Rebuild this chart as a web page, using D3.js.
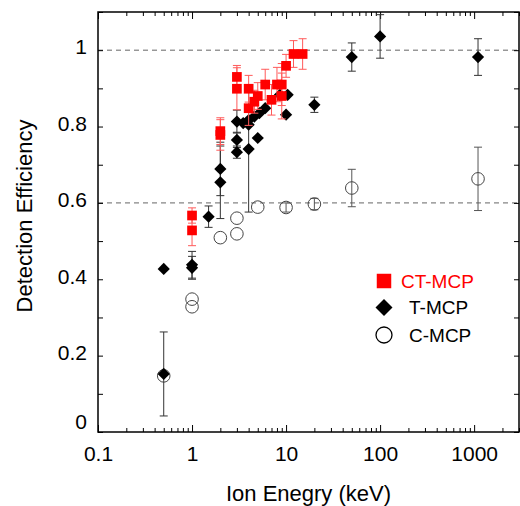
<!DOCTYPE html>
<html>
<head>
<meta charset="utf-8">
<script src="https://cdn.jsdelivr.net/npm/d3@7"></script>
<style>
body { margin: 0; background: #fff; }
text { font-family: Arial, "Liberation Sans", sans-serif; }
</style>
</head>
<body>
<div class="container"></div>
<script>
// CT-MCP (red squares)
var ctEnergy = [1, 1, 2, 2, 3, 3, 4, 4, 4.6, 5, 6, 7, 8, 9, 9, 10, 12, 15];
var ctValue  = [0.567, 0.528, 0.788, 0.778, 0.93, 0.899, 0.899, 0.848, 0.865, 0.88, 0.91, 0.87, 0.91, 0.91, 0.88, 0.959, 0.99, 0.99];
var ctError  = [0.02, 0.04, 0.035, 0.04, 0.03, 0.055, 0.035, 0.045, 0.03, 0.035, 0.04, 0.04, 0.045, 0.055, 0.06, 0.03, 0.035, 0.04];

// T-MCP (black diamonds)
var tEnergy = [0.5, 0.5, 1, 1, 1.5, 2, 2, 3, 3, 3, 3.5, 4, 4, 4, 4.6, 5, 5.2, 6, 8.6, 10.4, 10, 20, 50, 100, 1100];
var tValue  = [0.427, 0.152, 0.438, 0.43, 0.564, 0.689, 0.654, 0.813, 0.765, 0.733, 0.809, 0.817, 0.805, 0.741, 0.826, 0.77, 0.835, 0.848, 0.883, 0.883, 0.831, 0.857, 0.982, 1.036, 0.982];
var tError  = [0, 0.11, 0.035, 0.03, 0.028, 0.07, 0.095, 0.03, 0.02, 0.016, 0, 0, 0, 0.165, 0, 0, 0, 0, 0, 0, 0, 0.02, 0.037, 0.057, 0.048];

// C-MCP (open circles)
var cEnergy = [0.5, 1, 1, 2, 3, 3, 5, 10, 20, 50, 1100];
var cValue  = [0.147, 0.348, 0.328, 0.509, 0.56, 0.519, 0.589, 0.588, 0.597, 0.639, 0.663];
var cError  = [0, 0, 0, 0, 0, 0, 0, 0.012, 0.015, 0.049, 0.083];

var seriesNames = ["CT-MCP", "T-MCP", "C-MCP"];
var xMajorTicks = [0.1, 1, 10, 100, 1000];
var xTickLabels = ["0.1", "1", "10", "100", "1000"];
var yMajorTicks = [0, 0.2, 0.4, 0.6, 0.8, 1];
var yTickLabels = ["0", "0.2", "0.4", "0.6", "0.8", "1"];
var refLines = [0.6, 1];

var loadChart = function () {
    const WIDTH = 520, HEIGHT = 506;
    const LEFT = 98, RIGHT = 519, TOP = 12, BOTTOM = 432;

    var svg = d3.select('.container').append('svg')
        .attr('width', WIDTH).attr('height', HEIGHT);

    var xScale = d3.scaleLog().domain([0.1, 3000]).range([LEFT, RIGHT]);
    var yScale = d3.scaleLinear().domain([0, 1.1]).range([BOTTOM, TOP]);

    // log ticks: 1..9 of each decade
    var xTicks = [];
    [0.1, 1, 10, 100, 1000].forEach(function (dec) {
        for (var k = 1; k <= 9; k++) {
            var v = +(dec * k).toPrecision(3);
            if (v <= 3000) xTicks.push(v);
        }
    });
    var yTicks = d3.range(0, 12).map(function (i) { return +(i * 0.1).toFixed(1); });

    var isMajorX = function (d) { return xMajorTicks.indexOf(d) >= 0; };
    var xLabel = function (d) { var i = xMajorTicks.indexOf(d); return i >= 0 ? xTickLabels[i] : ""; };
    var yLabel = function (d) { var i = yMajorTicks.indexOf(d); return i >= 0 ? yTickLabels[i] : ""; };

    // reference dashed lines
    svg.selectAll('.ref').data(refLines).enter().append('line')
        .attr('x1', LEFT).attr('x2', RIGHT)
        .attr('y1', function (d) { return yScale(d); })
        .attr('y2', function (d) { return yScale(d); })
        .attr('stroke', '#666').attr('stroke-width', 1)
        .attr('stroke-dasharray', '5,4');

    // axes
    var bottom = svg.append('g').attr('transform', 'translate(0,' + BOTTOM + ')')
        .call(d3.axisBottom(xScale).tickValues(xTicks).tickSize(-4).tickSizeOuter(0)
            .tickPadding(14).tickFormat(xLabel));
    var top = svg.append('g').attr('transform', 'translate(0,' + TOP + ')')
        .call(d3.axisTop(xScale).tickValues(xTicks).tickSize(-4).tickSizeOuter(0).tickFormat(""));
    [bottom, top].forEach(function (g) {
        g.selectAll('.tick line').filter(isMajorX).attr('y2', g === bottom ? -7 : 7);
    });
    var left = svg.append('g').attr('transform', 'translate(' + LEFT + ',0)')
        .call(d3.axisLeft(yScale).tickValues(yTicks).tickSize(-5).tickSizeOuter(0)
            .tickPadding(11).tickFormat(yLabel));
    var right = svg.append('g').attr('transform', 'translate(' + RIGHT + ',0)')
        .call(d3.axisRight(yScale).tickValues(yTicks).tickSize(-5).tickSizeOuter(0).tickFormat(""));

    [bottom, top, left, right].forEach(function (g) {
        g.select('.domain').remove();
        g.selectAll('.tick line').attr('stroke', '#000').attr('stroke-width', 1);
        g.selectAll('text').attr('font-size', 21).attr('fill', '#000')
            .attr('font-family', 'Arial, "Liberation Sans", sans-serif');
    });
    left.selectAll('text').attr('dy', '0.18em');
    left.selectAll('.tick').filter(function (d) { return d === 0; }).select('text').attr('dy', '-0.15em');

    svg.append('rect')
        .attr('x', LEFT).attr('y', TOP)
        .attr('width', RIGHT - LEFT).attr('height', BOTTOM - TOP)
        .attr('fill', 'none').attr('stroke', '#000').attr('stroke-width', 1.5);

    // titles
    svg.append('text')
        .attr('x', (LEFT + RIGHT) / 2).attr('y', 501)
        .attr('text-anchor', 'middle').attr('font-size', 22)
        .text('Ion Enegry (keV)');
    svg.append('text')
        .attr('transform', 'translate(32,216) rotate(-90)')
        .attr('text-anchor', 'middle').attr('font-size', 22)
        .text('Detection Efficiency');

    var zip = function (e, v, err) {
        return e.map(function (d, i) { return { e: d, v: v[i], err: err[i] }; });
    };
    var ctData = zip(ctEnergy, ctValue, ctError);
    var tData = zip(tEnergy, tValue, tError);
    var cData = zip(cEnergy, cValue, cError);

    var addErrorBars = function (data, color) {
        var g = svg.append('g').attr('stroke', color).attr('stroke-width', 1).attr('fill', 'none');
        var withErr = data.filter(function (d) { return d.err > 0; });
        g.selectAll('path').data(withErr).enter().append('path')
            .attr('d', function (d) {
                var x = xScale(d.e), y1 = yScale(d.v - d.err), y2 = yScale(d.v + d.err);
                return 'M' + x + ',' + y1 + 'V' + y2 +
                    'M' + (x - 4) + ',' + y1 + 'H' + (x + 4) +
                    'M' + (x - 4) + ',' + y2 + 'H' + (x + 4);
            });
    };

    var square = d3.symbol().type(d3.symbolSquare);
    var diamond = d3.symbol().type(d3.symbolDiamond2);

    // C-MCP
    addErrorBars(cData, '#555');
    svg.append('g').selectAll('circle').data(cData).enter().append('circle')
        .attr('cx', function (d) { return xScale(d.e); })
        .attr('cy', function (d) { return yScale(d.v); })
        .attr('r', 6.3).attr('fill', 'none').attr('stroke', '#444').attr('stroke-width', 1);

    // T-MCP
    addErrorBars(tData, '#333');
    svg.append('g').selectAll('path').data(tData).enter().append('path')
        .attr('d', diamond.size(95))
        .attr('transform', function (d) { return 'translate(' + xScale(d.e) + ',' + yScale(d.v) + ')'; })
        .attr('fill', '#000');

    // CT-MCP
    addErrorBars(ctData, '#ff5a5a');
    svg.append('g').selectAll('path').data(ctData).enter().append('path')
        .attr('d', square.size(94))
        .attr('transform', function (d) { return 'translate(' + xScale(d.e) + ',' + yScale(d.v) + ')'; })
        .attr('fill', '#ff0000');

    // legend
    var legend = svg.append('g');
    var lx = 384, ly = [281, 307.5, 335];
    legend.append('path').attr('d', square.size(210)).attr('fill', '#ff0000')
        .attr('transform', 'translate(' + lx + ',' + ly[0] + ')');
    legend.append('path').attr('d', diamond.size(185)).attr('fill', '#000')
        .attr('transform', 'translate(' + lx + ',' + ly[1] + ')');
    legend.append('circle').attr('cx', lx).attr('cy', ly[2]).attr('r', 8)
        .attr('fill', 'none').attr('stroke', '#000').attr('stroke-width', 1.3);
    var textX = [401, 409, 409];
    var textColor = ['#ff0000', '#000', '#000'];
    legend.selectAll('text').data(seriesNames).enter().append('text')
        .attr('x', function (d, i) { return textX[i]; })
        .attr('y', function (d, i) { return ly[i]; })
        .attr('dy', '0.36em')
        .attr('font-size', 19)
        .attr('fill', function (d, i) { return textColor[i]; })
        .text(function (d) { return d; });
};

window.onload = loadChart;
</script>
</body>
</html>
